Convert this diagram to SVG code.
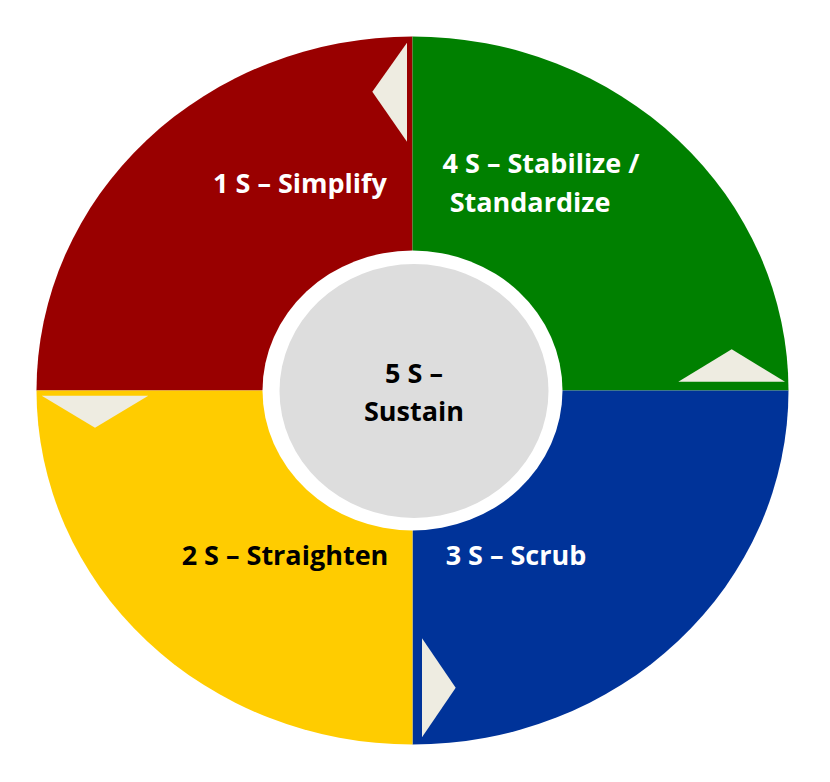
<svg xmlns="http://www.w3.org/2000/svg" width="830" height="782" viewBox="0 0 830 782">
  <style>
    .lbl { font-family: "Open Sans", "Liberation Sans", sans-serif; font-weight: bold; font-size: 27px; text-anchor: middle; }
    .w { fill: #FFFFFF; }
    .k { fill: #000000; }
    .arrow { fill: #EEECE1; }
  </style>
  <rect width="830" height="782" fill="#FFFFFF"/>
  <g id="node-1-simplify">
    <path d="M412.5,390.5 L36.5,390.5 A376,354 0 0 1 412.5,36.5 Z" fill="#990000"/>
    <text class="lbl w" x="300" y="193">1 S – Simplify</text>
  </g>
  <g id="node-4-stabilize">
    <path d="M412.5,390.5 L412.5,36.5 A376,354 0 0 1 788.5,390.5 Z" fill="#008000"/>
    <text class="lbl w" x="541" y="173">4 S – Stabilize /</text>
    <text class="lbl w" x="530" y="212">Standardize</text>
  </g>
  <g id="node-3-scrub">
    <path d="M412.5,390.5 L788.5,390.5 A376,354 0 0 1 412.5,744.5 Z" fill="#003399"/>
    <text class="lbl w" x="516" y="565">3 S – Scrub</text>
  </g>
  <g id="node-2-straighten">
    <path d="M412.5,390.5 L412.5,744.5 A376,354 0 0 1 36.5,390.5 Z" fill="#FFCC00"/>
    <text class="lbl k" x="285" y="565">2 S – Straighten</text>
  </g>
  <g id="node-5-sustain">
    <ellipse cx="412.5" cy="390.5" rx="150" ry="140" fill="#FFFFFF"/>
    <ellipse cx="414" cy="391" rx="134.5" ry="127" fill="#DDDDDD"/>
    <text class="lbl k" x="414" y="383">5 S –</text>
    <text class="lbl k" x="414" y="421">Sustain</text>
  </g>
  <g id="connectors">
    <polygon class="arrow" points="407,42.7 407,141.7 372.3,91.7"/>
    <polygon class="arrow" points="678.3,381.7 785,381.7 731.7,349.3"/>
    <polygon class="arrow" points="422,638.3 422,737.3 455.7,687.7"/>
    <polygon class="arrow" points="41.7,395.7 148.3,395.7 95,427.7"/>
  </g>
</svg>
